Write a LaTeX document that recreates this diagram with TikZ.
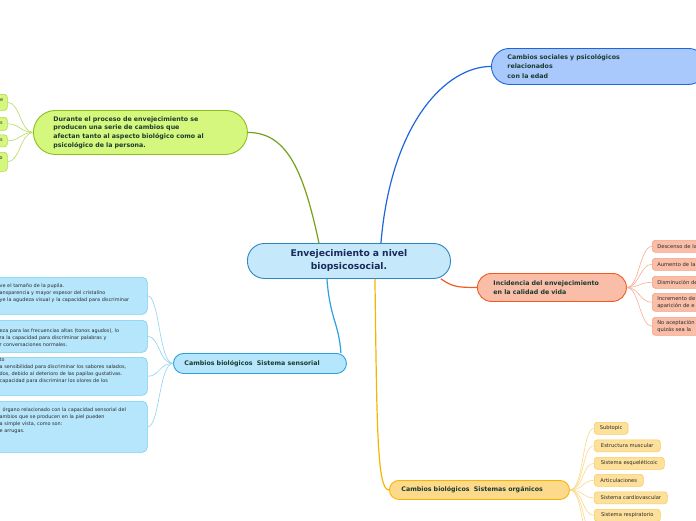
\documentclass[tikz,border=0pt]{standalone}
\usepackage{fontspec}
\setmainfont{DejaVu Sans}
\definecolor{cFill}{HTML}{C5E9FB}
\definecolor{cLine}{HTML}{2E86C1}
\definecolor{cText}{HTML}{1A2A5A}
\definecolor{lText}{HTML}{1A3A30}
\definecolor{sText}{HTML}{2A2A2A}
\definecolor{bFill}{HTML}{A9C9FC}
\definecolor{bLine}{HTML}{1F66DD}
\definecolor{gFill}{HTML}{D5F77E}
\definecolor{gLine}{HTML}{8BBF1C}
\definecolor{gSub}{HTML}{B2D94B}
\definecolor{gCon}{HTML}{B9DB5E}
\definecolor{sFill}{HTML}{B6E6FC}
\definecolor{sLine}{HTML}{2AA2DE}
\definecolor{sSub}{HTML}{74CDF2}
\definecolor{sCon}{HTML}{8FD3F2}
\definecolor{oFill}{HTML}{F9BDA8}
\definecolor{oLine}{HTML}{F15B21}
\definecolor{oSub}{HTML}{F7A080}
\definecolor{oCon}{HTML}{F9AE92}
\definecolor{yFill}{HTML}{FDDA8B}
\definecolor{yLine}{HTML}{F7B500}
\definecolor{ySub}{HTML}{F9CD60}
\definecolor{yCon}{HTML}{FBD98A}
\begin{document}
\begin{tikzpicture}[x=1pt,y=-1pt,
  box/.style={draw, rectangle, anchor=north west, inner ysep=0pt, line width=0.9pt},
  mainlbl/.style={align=left, text=lText, font=\fontsize{6.3}{9}\selectfont\bfseries},
  sublbl/.style={align=left, text=sText, font=\fontsize{5.2}{7}\selectfont},
  frag/.style={anchor=west, inner sep=0pt, align=left, text=sText, font=\fontsize{4.9}{7}\selectfont},
  redsub/.style={box, line width=0.6pt, rounded corners=3pt, fill=oFill, draw=oSub, minimum width=70pt, inner xsep=5pt, text width=60pt, sublbl},
  yelsub/.style={box, line width=0.6pt, rounded corners=3pt, fill=yFill!85!white, draw=ySub, minimum height=12pt, inner xsep=5.5pt, sublbl},
  grnsub/.style={box, line width=0.6pt, rounded corners=3pt, fill=gFill, draw=gSub, minimum width=27pt},
  blusub/.style={box, line width=0.6pt, rounded corners=5pt, fill=sFill, draw=sSub, minimum width=297pt},
  maincon/.style={line width=1.2pt},
  subcon/.style={line width=0.6pt}
]
\useasboundingbox (0,0) rectangle (696,520);
\clip (0,0) rectangle (696,520);
\fill[white] (0,0) rectangle (696,520);

% main nodes
\node[box, rounded corners=17pt, fill=cFill, draw=cLine, minimum width=203pt, minimum height=35pt,
  text width=180pt, inner xsep=11.5pt, align=center, text=cText,
  font=\fontsize{9.2}{13}\selectfont\bfseries] (root) at (247,243) {Envejecimiento a nivel\\biopsicosocial.};

\node[box, rounded corners=18pt, fill=bFill, draw=bLine, minimum width=215pt, minimum height=36pt,
  text width=183pt, inner xsep=16pt, mainlbl, font=\fontsize{6.3}{9.5}\selectfont\bfseries] (soc) at (491,48)
  {Cambios sociales y psicológicos\\relacionados\\con la edad};

\node[box, rounded corners=22pt, fill=gFill, draw=gLine, minimum width=214pt, minimum height=44pt,
  text width=174pt, inner xsep=20pt, mainlbl, font=\fontsize{6.3}{8.7}\selectfont\bfseries] (dur) at (33,110)
  {Durante el proceso de envejecimiento se\\producen una serie de cambios que\\afectan tanto al aspecto biológico como al\\psicológico de la persona.};

\node[box, rounded corners=10pt, fill=sFill, draw=sLine, minimum width=173pt, minimum height=20pt,
  text width=151pt, inner xsep=11pt, mainlbl] (sens) at (173,353)
  {Cambios biológicos\ \ Sistema sensorial};

\node[box, rounded corners=14pt, fill=oFill, draw=oLine, minimum width=149pt, minimum height=28pt,
  text width=117pt, inner xsep=16pt, mainlbl] (inc) at (477,273)
  {Incidencia del envejecimiento\\en la calidad de vida};

\node[box, rounded corners=9.5pt, fill=yFill, draw=yLine, minimum width=180pt, minimum height=19pt,
  text width=156pt, inner xsep=12pt, mainlbl] (org) at (389,480)
  {Cambios biológicos\ \ Sistemas orgánicos};

% main connectors
\draw[maincon, draw=bLine] ([xshift=32pt]root.north) .. controls +(10,-120) and +(-45,0) .. (soc.west);
\draw[maincon, draw=gLine!85!black] ([xshift=-30pt]root.north) .. controls +(-15,-70) and +(40,0) .. (dur.east);
\draw[maincon, draw=sLine] ([xshift=-22pt]root.south) .. controls +(3,40) and +(-2,-30) .. ([xshift=-6pt]sens.north east);
\draw[maincon, draw=oLine] ([xshift=-10pt]root.south east) .. controls +(12,8) and +(-20,0) .. (inc.west);
\draw[maincon, draw=yLine] ([xshift=26pt]root.south) .. controls +(2,150) and +(-12,0) .. (org.west);

% green sub nodes
\node[grnsub, minimum height=16pt] (g1) at (-20,94) {};
\node[grnsub, minimum height=13pt] (g2) at (-20,117) {};
\node[grnsub, minimum height=12pt] (g3) at (-20,134.5) {};
\node[grnsub, minimum height=19pt] (g4) at (-20,152) {};
\node[frag] (g1t) at (0,100.5) {e};
\node[frag] (g2t) at (0,123) {s};
\node[frag] (g3t) at (0,140.5) {s};
\node[frag] (g4t) at (-0.5,158.5) {o};
\foreach \n in {g1,g2,g3,g4}
  \draw[subcon, draw=gCon] (dur.west) .. controls +(-12,0) and +(12,0) .. (\n.east);

% sensorial sub nodes
\node[blusub, minimum height=37pt] (s1) at (-150,277) {};
\node[blusub, minimum height=32pt] (s2) at (-150,320) {};
\node[blusub, minimum height=38pt] (s3) at (-150,357) {};
\node[blusub, minimum height=51pt] (s4) at (-150,401) {};
\node[frag, text width=150pt] (s1t) at (-0.5,293.5) {ve el tamaño de la pupila.\\ansparencia y mayor espesor del cristalino\\ye la agudeza visual y la capacidad para discriminar};
\node[frag, text width=150pt] (s2t) at (-0.5,338) {eza para las frecuencias altas (tonos agudos), lo\\ra la capacidad para discriminar palabras y\\r conversaciones normales.};
\node[frag, text width=150pt] (s3t) at (-0.5,371) {to\\a sensibilidad para discriminar los sabores salados,\\dos, debido al deterioro de las papilas gustativas.\\capacidad para discriminar los olores de los};
\node[frag, text width=150pt] (s4t) at (-0.5,421) {\hspace*{3pt}órgano relacionado con la capacidad sensorial del\\ambios que se producen en la piel pueden\\a simple vista, como son:\\e arrugas.};
\foreach \n in {s1,s2,s3,s4}
  \draw[subcon, draw=sCon] (sens.west) .. controls +(-14,0) and +(12,0) .. (\n.east);

% red sub nodes
\node[redsub, minimum height=12pt] (r1) at (652,240) {Descenso de la};
\node[redsub, minimum height=12pt] (r2) at (652,258) {Aumento de la};
\node[redsub, minimum height=12pt] (r3) at (652,276) {Disminución de};
\node[redsub, minimum height=18pt] (r4) at (652,293) {Incremento de\\aparición de e};
\node[redsub, minimum height=18pt] (r5) at (652,317) {No aceptación\\quizás sea la};
\foreach \n in {r1,r2,r3,r4,r5}
  \draw[subcon, draw=oCon] (inc.east) .. controls +(12,0) and +(-12,0) .. (\n.west);

% yellow sub nodes
\node[yelsub, minimum width=33pt] (y1) at (594,422) {Subtopic};
\node[yelsub, minimum width=66pt] (y2) at (594,439.5) {Estructura muscular};
\node[yelsub, minimum width=70pt] (y3) at (594,457) {Sistema esqueléticoic};
\node[yelsub, minimum width=49pt] (y4) at (594,474) {Articulaciones};
\node[yelsub, minimum width=73pt] (y5) at (594,491.5) {Sistema cardiovascular};
\node[yelsub, minimum width=66pt] (y6) at (594,509) {Sistema respiratorio};
\coordinate (y7) at (594,533);
\coordinate (y8) at (594,552);
\foreach \n in {y1,y2,y3,y4,y5,y6}
  \draw[subcon, draw=yCon] (org.east) .. controls +(14,0) and +(-12,0) .. (\n.west);
\foreach \n in {y7,y8}
  \draw[subcon, draw=yCon] (org.east) .. controls +(14,0) and +(-12,0) .. (\n);
\end{tikzpicture}
\end{document}
